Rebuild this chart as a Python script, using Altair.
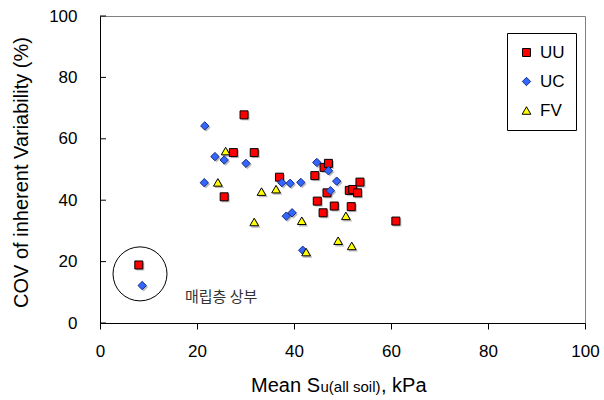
import altair as alt
import pandas as pd

# Mean Su (kPa) and COV of inherent variability (%) per test type
uu_x = [29.7, 27.5, 31.8, 25.6, 37.0, 44.3, 46.2, 47.1, 46.8, 44.8, 48.3, 46.0, 51.8, 51.4, 52.1, 53.1, 53.6, 61.0, 8.0]
uu_y = [67.8, 55.5, 55.5, 41.1, 47.5, 48.0, 50.7, 52.0, 42.4, 39.7, 38.1, 35.9, 37.9, 43.2, 43.5, 42.4, 45.9, 33.2, 18.9]

uc_x = [21.6, 23.7, 25.6, 30.1, 21.5, 37.5, 39.2, 41.4, 38.4, 39.6, 41.8, 44.7, 47.1, 48.8, 47.5, 8.7]
uc_y = [64.2, 54.2, 53.1, 52.0, 45.7, 45.7, 45.5, 45.8, 34.8, 35.9, 23.7, 52.3, 49.6, 46.2, 43.1, 12.2]

fv_x = [25.9, 24.3, 33.3, 36.3, 31.8, 41.6, 50.7, 49.1, 51.9, 42.5]
fv_y = [56.0, 45.8, 42.8, 43.6, 32.9, 33.3, 34.9, 26.8, 25.1, 23.1]

series = ["UU", "UC", "FV"]
tick_values = [0, 20, 40, 60, 80, 100]

# circled group (upper landfill layer) and its note
group_x = [8.25]
group_y = [16.0]
note_x = [17.5]
note_y = [8.5]
note_text = ["매립층 상부"]

x_title_main = ["Mean S"]
x_title_sub = ["u(all soil)"]
x_title_tail = [", kPa"]
y_title = ["COV of inherent Variability (%)"]

fills = ["#FF0000", "#3366FF", "#FFFF00"]
strokes = ["#000000", "#1C2F7A", "#000000"]
shapes = ["square", "diamond", "triangle-up"]
sizes = [64, 76, 92]

rows = []
for name, xs, ys in [("UU", uu_x, uu_y), ("UC", uc_x, uc_y), ("FV", fv_x, fv_y)]:
    rows += [{"su": a, "cov": b, "type": name, "kind": name} for a, b in zip(xs, ys)]
df = pd.DataFrame(rows)

FONT = "Liberation Sans"

x_scale = alt.Scale(domain=[0, 100], nice=False, zero=True)
y_scale = alt.Scale(domain=[0, 100], nice=False, zero=True)

x_axis = alt.Axis(values=tick_values, title=None, grid=False, domainColor="black",
                  tickColor="black", tickSize=6, labelFontSize=17, labelFont=FONT,
                  labelColor="black", labelPadding=14, labelFlush=False)
y_axis = alt.Axis(values=tick_values, title=None, grid=False, domainColor="black",
                  ticks=False, tickSize=0, labelFontSize=17, labelFont=FONT,
                  labelColor="black", labelPadding=23)

legend = alt.Legend(title=None)

# soft drop shadow under each marker, one layer per test type
shadows = []
for name, shp, sz in zip(series, shapes, sizes):
    shadows.append(
        alt.Chart(df).transform_filter(alt.datum.type == name).mark_point(
            filled=True, opacity=0.5, color="#7a7a7a", shape=shp, size=sz,
            xOffset=1.5, yOffset=1.5, strokeWidth=0
        ).encode(
            x=alt.X("su:Q", scale=x_scale, axis=x_axis),
            y=alt.Y("cov:Q", scale=y_scale, axis=y_axis),
        )
    )

points = alt.Chart(df).mark_point(filled=True, opacity=1, strokeWidth=1).encode(
    x=alt.X("su:Q", scale=x_scale, axis=x_axis),
    y=alt.Y("cov:Q", scale=y_scale, axis=y_axis),
    color=alt.Color("type:N", scale=alt.Scale(domain=series, range=fills), legend=legend),
    stroke=alt.Stroke("type:N", scale=alt.Scale(domain=series, range=strokes), legend=legend),
    shape=alt.Shape("type:N", scale=alt.Scale(domain=series, range=shapes), legend=legend),
    size=alt.Size("kind:N", scale=alt.Scale(domain=series, range=sizes), legend=None),
)

# inward tick marks on the y axis
y_ticks = alt.Chart(pd.DataFrame({"cov": tick_values})).mark_rule(
    color="black", strokeWidth=1
).encode(
    y=alt.Y("cov:Q", scale=y_scale, axis=y_axis),
    x=alt.value(0),
    x2=alt.value(6),
)

ring = alt.Chart(pd.DataFrame({"su": group_x, "cov": group_y})).mark_point(
    shape="circle", size=2916, filled=False, stroke="black", strokeWidth=1, opacity=1
).encode(
    x=alt.X("su:Q", scale=x_scale, axis=x_axis),
    y=alt.Y("cov:Q", scale=y_scale, axis=y_axis),
)

note = alt.Chart(pd.DataFrame({"su": note_x, "cov": note_y, "t": note_text})).mark_text(
    align="left", baseline="middle", font="Noto Sans CJK KR", fontSize=15, color="#333333"
).encode(
    x=alt.X("su:Q", scale=x_scale, axis=x_axis),
    y=alt.Y("cov:Q", scale=y_scale, axis=y_axis),
    text="t:N",
)

title_main = alt.Chart(pd.DataFrame({"t": x_title_main})).mark_text(
    align="right", baseline="alphabetic", font=FONT, fontSize=20, color="black"
).encode(text="t:N", x=alt.value(220), y=alt.value(376))

title_sub = alt.Chart(pd.DataFrame({"t": x_title_sub})).mark_text(
    align="left", baseline="alphabetic", font=FONT, fontSize=15, color="black"
).encode(text="t:N", x=alt.value(220.5), y=alt.value(376))

title_tail = alt.Chart(pd.DataFrame({"t": x_title_tail})).mark_text(
    align="left", baseline="alphabetic", font=FONT, fontSize=20, color="black"
).encode(text="t:N", x=alt.value(281), y=alt.value(376))

title_y = alt.Chart(pd.DataFrame({"t": y_title})).mark_text(
    align="center", baseline="middle", angle=270, font=FONT, fontSize=20, color="black"
).encode(text="t:N", x=alt.value(-78), y=alt.value(156.5))

chart = alt.layer(
    *shadows, points, y_ticks, ring, note, title_main, title_sub, title_tail, title_y
).properties(
    width=485,
    height=307,
    padding={"left": 100, "top": 16, "right": 19, "bottom": 77},
    autosize=alt.AutoSizeParams(type="none"),
    background="white",
).configure_view(
    stroke="#808080", strokeWidth=1
).configure_legend(
    orient="none", legendX=407, legendY=17, strokeColor="black", strokeWidth=1,
    fillColor="white", padding=11, rowPadding=11, labelFontSize=17, labelFont=FONT,
    labelColor="black", labelOffset=5, symbolSize=45, symbolStrokeWidth=1,
    cornerRadius=0,
)

chart.save("out.html", embed_options={"renderer": "svg", "actions": False})
